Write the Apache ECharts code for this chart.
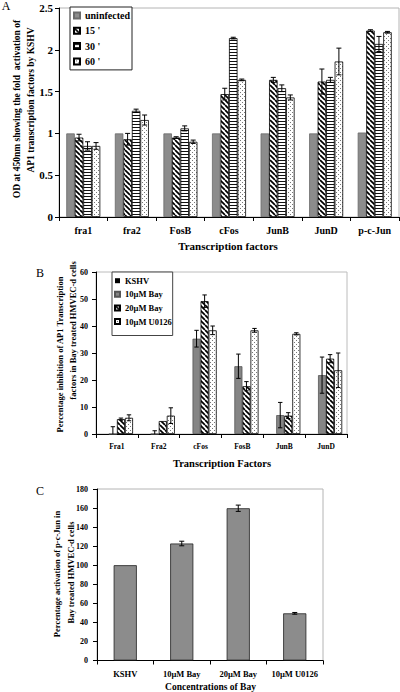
<!DOCTYPE html>
<html><head><meta charset="utf-8">
<script src="https://cdn.jsdelivr.net/npm/echarts@6/dist/echarts.min.js"></script>
<style>html,body{margin:0;padding:0;background:#fff}#c{width:400px;height:692px}</style>
</head><body><div id="c"></div>
<script>
// ---------- Panel A data ----------
const catsA = ['fra1', 'fra2', 'FosB', 'cFos', 'JunB', 'JunD', 'p-c-Jun'];
const namesA = ['uninfected', "15 '", "30 '", "60 '"];
const uninfected = [1.00, 1.00, 1.00, 1.00, 1.00, 1.00, 1.01];
const min15 = [0.95, 0.93, 0.95, 1.47, 1.64, 1.62, 2.23];
const min30 = [0.85, 1.27, 1.06, 2.14, 1.54, 1.64, 2.07];
const min60 = [0.85, 1.16, 0.90, 1.64, 1.43, 1.86, 2.21];
const errUninf = [0, 0, 0, 0, 0, 0, 0];
const err15 = [0.04, 0.07, 0.01, 0.07, 0.03, 0.15, 0.01];
const err30 = [0.05, 0.02, 0.03, 0.01, 0.04, 0.03, 0.09];
const err60 = [0.04, 0.06, 0.02, 0.01, 0.03, 0.16, 0.01];
const ticksA = [0, 0.5, 1, 1.5, 2, 2.5];

// ---------- Panel B data ----------
const catsB = ['Fra1', 'Fra2', 'cFos', 'FosB', 'JunB', 'JunD'];
const namesB = ['KSHV', '10µM Bay', '20µM Bay', '10µM U0126'];
const kshv = [0, 0, 0, 0, 0, 0];
const bay10 = [0, 0, 35.3, 25.1, 7.0, 21.8];
const bay20 = [5.5, 4.8, 49.2, 17.7, 6.8, 27.9];
const u0126B = [6.0, 6.8, 38.4, 38.4, 37.1, 23.6];
const errKshv = [0, 0, 0, 0, 0, 0];
const errBay10 = [2.7, 1.2, 3.1, 4.5, 4.7, 6.7];
const errBay20 = [0.4, 0, 2.3, 1.7, 1.1, 1.5];
const errU0126B = [1.1, 2.9, 1.6, 0.7, 0.4, 6.4];
const ticksB = [0, 10, 20, 30, 40, 50, 60];

// ---------- Panel C data ----------
const catsC = ['KSHV', '10µM Bay', '20µM Bay', '10µM U0126'];
const valsC = [100, 122.8, 159.8, 49.5];
const errC = [0, 2.4, 3.3, 0.9];
const ticksC = [0, 20, 40, 60, 80, 100, 120, 140, 160, 180];

// ---------- styling ----------
const FONT = "'Liberation Serif','Times New Roman',serif";

function makePattern(kind) {
  const c = document.createElement('canvas');
  const ctx = c.getContext('2d');
  if (kind === 'diag') {
    const s = 5; c.width = s; c.height = s;
    ctx.fillStyle = '#fff'; ctx.fillRect(0, 0, s, s);
    ctx.strokeStyle = '#000'; ctx.lineWidth = 1.7; ctx.beginPath();
    [-s, 0, s].forEach(k => { ctx.moveTo(k, 0); ctx.lineTo(k + s, s); });
    ctx.stroke();
  } else if (kind === 'horiz') {
    c.width = 3; c.height = 3;
    ctx.fillStyle = '#fff'; ctx.fillRect(0, 0, 3, 3);
    ctx.fillStyle = '#111'; ctx.fillRect(0, 1, 3, 1);
  } else {
    c.width = 4; c.height = 4;
    ctx.fillStyle = '#fff'; ctx.fillRect(0, 0, 4, 4);
    ctx.fillStyle = '#777'; ctx.fillRect(0, 0, 1, 1); ctx.fillRect(2, 2, 1, 1);
  }
  return { image: c, repeat: 'repeat' };
}
const PAT_DIAG = makePattern('diag');
const PAT_HORIZ = makePattern('horiz');
const PAT_DOTS = makePattern('dots');

const GAP_A = 0.30, GAP_B = 0.23, GAP_C = 0.59;

function barSeries(name, data, axis, fill, border, gap) {
  return {
    type: 'bar', name, data, xAxisIndex: axis, yAxisIndex: axis,
    barGap: '0%', barCategoryGap: (gap * 100) + '%',
    itemStyle: { color: fill, borderColor: border, borderWidth: border ? 0.8 : 0 },
    emphasis: { disabled: true }, silent: true, z: 2
  };
}

function errSeries(vals, errs, axis, idx, n, gap, capW) {
  return {
    type: 'custom', xAxisIndex: axis, yAxisIndex: axis, clip: true, silent: true, z: 5,
    data: vals.map((v, i) => [i, v, errs[i]]),
    encode: { x: 0, y: 1 },
    renderItem: function (params, api) {
      const e = api.value(2);
      if (!e) return null;
      const ci = api.value(0), v = api.value(1);
      const catW = api.size([1, 0])[0];
      const groupW = catW * (1 - gap);
      const bw = groupW / n;
      const center = api.coord([ci, v]);
      const cx = center[0] - groupW / 2 + (idx + 0.5) * bw;
      const hi = api.coord([ci, v + e])[1];
      const lo = api.coord([ci, v - e])[1];
      const st = { stroke: '#000', lineWidth: 1 };
      return {
        type: 'group', children: [
          { type: 'line', shape: { x1: cx, y1: hi, x2: cx, y2: lo }, style: st },
          { type: 'line', shape: { x1: cx - capW, y1: hi, x2: cx + capW, y2: hi }, style: st },
          { type: 'line', shape: { x1: cx - capW, y1: lo, x2: cx + capW, y2: lo }, style: st }
        ]
      };
    }
  };
}

function xAx(grid, data, fs, margin) {
  return {
    type: 'category', gridIndex: grid, data,
    axisLine: { show: true, lineStyle: { color: '#000', width: 1 } },
    axisTick: { show: true, length: 4, lineStyle: { color: '#000' } },
    axisLabel: { fontFamily: FONT, fontWeight: 'bold', fontSize: fs, color: '#000', margin, interval: 0 },
    splitLine: { show: false }
  };
}
function yAx(grid, ticks, fs, margin) {
  return {
    type: 'value', gridIndex: grid, min: ticks[0], max: ticks[ticks.length - 1],
    interval: ticks[1] - ticks[0],
    axisLine: { show: true, lineStyle: { color: '#000', width: 1 } },
    axisTick: { show: true, length: 4, lineStyle: { color: '#000' } },
    axisLabel: { fontFamily: FONT, fontWeight: 'bold', fontSize: fs, color: '#000', margin },
    splitLine: { show: false }
  };
}
function txt(text, x, y, fs, opts) {
  opts = opts || {};
  return {
    type: 'text', x, y, rotation: opts.rot || 0, silent: true,
    style: {
      text, fontFamily: FONT, fontWeight: opts.weight || 'bold', fontSize: fs,
      fill: '#000', textAlign: 'center', textVerticalAlign: 'middle'
    }
  };
}

const GRAY = '#8c8c8c';
const ROT = Math.PI / 2;

const option = {
  animation: false,
  backgroundColor: '#fff',
  grid: [
    { left: 59, top: 8, width: 340, height: 209, show: true, borderColor: '#b4b4b4', borderWidth: 1, backgroundColor: 'transparent' },
    { left: 96, top: 272, width: 251, height: 162, show: true, borderColor: '#bcbcbc', borderWidth: 1, backgroundColor: 'transparent' },
    { left: 97, top: 489, width: 226, height: 171.5, show: true, borderColor: '#b4b4b4', borderWidth: 1, backgroundColor: 'transparent' }
  ],
  xAxis: [xAx(0, catsA, 10, 8), xAx(1, catsB, 7.5, 8), xAx(2, catsC, 8.5, 9)],
  yAxis: [yAx(0, ticksA, 11, 6), yAx(1, ticksB, 8, 8), yAx(2, ticksC, 8, 9)],
  legend: [
    {
      data: namesA, orient: 'vertical', left: 70, top: 7, itemWidth: 6, itemHeight: 6, itemGap: 3.3,
      padding: [2.5, 2, 2.5, 3], borderColor: '#222', borderWidth: 1, backgroundColor: '#fff',
      textStyle: { fontFamily: FONT, fontWeight: 'bold', fontSize: 10, color: '#000', lineHeight: 12 },
      icon: 'rect', selectedMode: false
    },
    {
      data: namesB, orient: 'vertical', left: 112, top: 272, itemWidth: 5, itemHeight: 5, itemGap: 3.6,
      padding: [3.7, 1, 9, 2], borderColor: '#444', borderWidth: 1, backgroundColor: '#fff',
      textStyle: { fontFamily: FONT, fontWeight: 'bold', fontSize: 8.5, color: '#000', lineHeight: 10 },
      icon: 'rect', selectedMode: false
    }
  ],
  series: [
    barSeries(namesA[0], uninfected, 0, GRAY, '#6a6a6a', GAP_A),
    barSeries(namesA[1], min15, 0, PAT_DIAG, '#000', GAP_A),
    barSeries(namesA[2], min30, 0, PAT_HORIZ, '#000', GAP_A),
    barSeries(namesA[3], min60, 0, PAT_DOTS, '#000', GAP_A),
    errSeries(uninfected, errUninf, 0, 0, 4, GAP_A, 2.5),
    errSeries(min15, err15, 0, 1, 4, GAP_A, 2.5),
    errSeries(min30, err30, 0, 2, 4, GAP_A, 2.5),
    errSeries(min60, err60, 0, 3, 4, GAP_A, 2.5),

    barSeries(namesB[0], kshv, 1, '#000', null, GAP_B),
    barSeries(namesB[1], bay10, 1, '#858585', '#555', GAP_B),
    barSeries(namesB[2], bay20, 1, PAT_DIAG, '#000', GAP_B),
    barSeries(namesB[3], u0126B, 1, PAT_DOTS, '#000', GAP_B),
    errSeries(kshv, errKshv, 1, 0, 4, GAP_B, 2.2),
    errSeries(bay10, errBay10, 1, 1, 4, GAP_B, 2.2),
    errSeries(bay20, errBay20, 1, 2, 4, GAP_B, 2.2),
    errSeries(u0126B, errU0126B, 1, 3, 4, GAP_B, 2.2),

    barSeries('Percentage activation', valsC, 2, GRAY, '#222', GAP_C),
    errSeries(valsC, errC, 2, 0, 1, GAP_C, 2.5)
  ],
  graphic: [
    txt('A', 6, 6, 12, { weight: 'normal' }),
    txt('B', 40, 273, 12, { weight: 'normal' }),
    txt('C', 40, 491, 12, { weight: 'normal' }),
    txt('OD at 450nm showing the fold  activation of', 17, 109, 9.5, { rot: ROT }),
    txt('AP1 transcription factors by KSHV', 30.5, 100, 9.5, { rot: ROT }),
    txt('Transcription factors', 228, 246, 11),
    txt('Percentage inhibition of AP1 Transcription', 60, 354.5, 8.5, { rot: ROT }),
    txt('factors in Bay treated HMVEC-d cells', 73, 330.5, 8.5, { rot: ROT }),
    txt('Transcription Factors', 222, 463, 10.5),
    txt('Percentage activation of p-c-Jun in', 57, 574, 8.5, { rot: ROT }),
    txt('Bay treated HMVEC-d cells', 70.5, 572.5, 8.5, { rot: ROT }),
    txt('Concentrations of Bay', 210.5, 687, 9.5)
  ]
};

const chart = echarts.init(document.getElementById('c'), null, { renderer: 'svg', width: 400, height: 692 });
chart.setOption(option);
</script>
</body></html>
